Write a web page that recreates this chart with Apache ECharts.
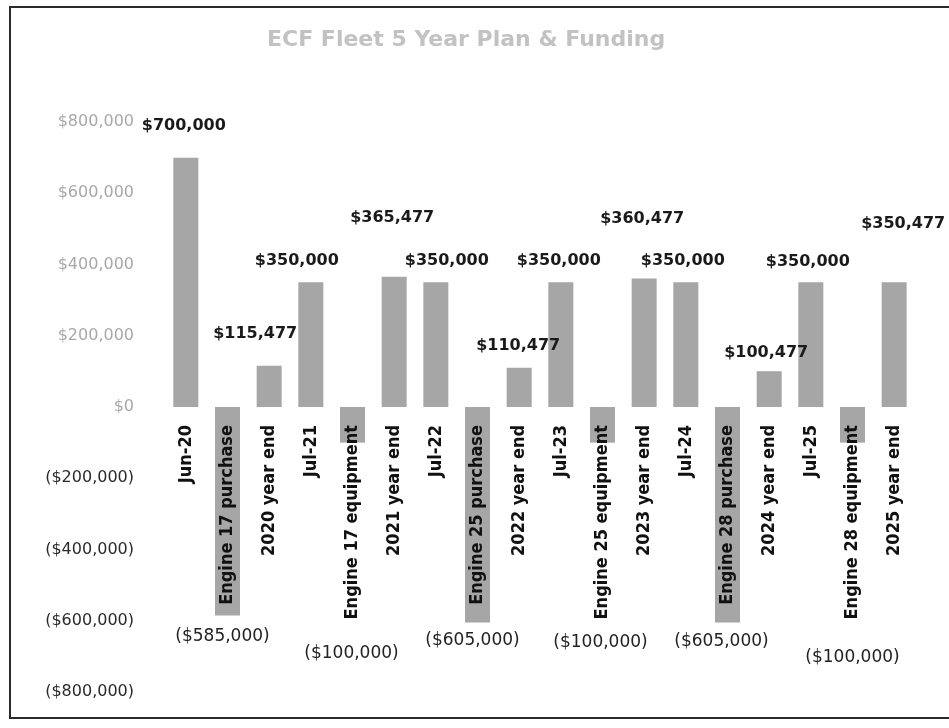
<!DOCTYPE html>
<html>
<head>
<meta charset="utf-8">
<script src="https://cdn.jsdelivr.net/npm/echarts@6/dist/echarts.min.js"></script>
<style>
html,body{margin:0;padding:0;background:#fff;}
#chart{width:949px;height:728px;}
</style>
</head>
<body>
<div id="chart"></div>
<script>
// ---- data ----
const chartTitle = 'ECF Fleet 5 Year Plan & Funding';
const categories = [
  'Jun-20', 'Engine 17 purchase', '2020 year end',
  'Jul-21', 'Engine 17 equipment', '2021 year end',
  'Jul-22', 'Engine 25 purchase', '2022 year end',
  'Jul-23', 'Engine 25 equipment', '2023 year end',
  'Jul-24', 'Engine 28 purchase', '2024 year end',
  'Jul-25', 'Engine 28 equipment', '2025 year end'
];
const values = [
  700000, -585000, 115477,
  350000, -100000, 365477,
  350000, -605000, 110477,
  350000, -100000, 360477,
  350000, -605000, 100477,
  350000, -100000, 350477
];
const axisMin = -800000;
const axisMax = 800000;
const axisStep = 200000;

// ---- layout: hand-placed data label nudges [dx, dy] ----
const labelNudge = [
  [-2,-19], [-5,8],  [-14,-19],
  [-14,-8], [-1,197],[-2,-46],
  [11,-8],  [-5,5],  [-1,-9],
  [-2,-8],  [-2,186],[-2,-47],
  [-3,-8],  [-6,6],  [-3,-5],
  [-3,-7],  [0,201], [9,-45]
];

const gridTop = 122, gridBottom = 36, chartH = 728;
const plotH = chartH - gridTop - gridBottom;
// distance from plot bottom up to the zero line
const zeroLift = plotH * (0 - axisMin) / (axisMax - axisMin);

function money(v) {
  const s = Math.abs(v).toLocaleString('en-US');
  return v < 0 ? '($' + s + ')' : '$' + s;
}

const seriesData = values.map((v, i) => ({
  value: v,
  label: v >= 0
    ? { position: 'top', offset: labelNudge[i], fontWeight: 'bold', fontSize: 16,
        fontFamily: 'DejaVu Sans', color: '#1a1a1a' }
    : { position: 'bottom', offset: labelNudge[i], fontWeight: 'normal', fontSize: 17,
        fontFamily: 'DejaVu Sans', color: '#222' }
}));

const chart = echarts.init(document.getElementById('chart'), null, { renderer: 'canvas' });
chart.setOption({
  backgroundColor: '#ffffff',
  animation: false,
  title: {
    text: chartTitle,
    left: 262,
    top: 24,
    textStyle: { fontFamily: 'DejaVu Sans', fontSize: 22, fontWeight: 'bold', color: '#c2c2c2' }
  },
  graphic: [{
    type: 'rect',
    shape: { x: 10, y: 7, width: 945, height: 711 },
    style: { fill: 'none', stroke: '#2a2a2a', lineWidth: 2 },
    silent: true,
    z: 0
  }],
  grid: {
    left: 165, right: 34, top: gridTop, bottom: gridBottom,
    containLabel: false,
    outerBoundsMode: 'none'
  },
  xAxis: {
    type: 'category',
    data: categories,
    z: 10,
    position: 'bottom',
    offset: -zeroLift,
    axisLine: { show: false, onZero: false },
    axisTick: { show: false },
    splitLine: { show: false },
    axisLabel: {
      rotate: 90,
      interval: 0,
      margin: 18,
      padding: [0, 0, 12, 0],
      fontFamily: "'DejaVu Sans Condensed', 'Liberation Sans Narrow', 'DejaVu Sans'",
      fontWeight: 'bold',
      fontSize: 18,
      color: '#111'
    }
  },
  yAxis: {
    type: 'value',
    min: axisMin,
    max: axisMax,
    interval: axisStep,
    axisLine: { show: false },
    axisTick: { show: false },
    splitLine: { show: false },
    axisLabel: {
      margin: 31,
      fontFamily: 'DejaVu Sans',
      fontSize: 16,
      formatter: v => money(v),
      color: v => (v >= 0 ? '#a8a8a8' : '#2a2a2a')
    }
  },
  series: [{
    type: 'bar',
    data: seriesData,
    barWidth: 25,
    itemStyle: { color: '#a6a6a6' },
    label: { show: true, distance: 5, formatter: p => money(p.value) }
  }]
});
</script>
</body>
</html>
